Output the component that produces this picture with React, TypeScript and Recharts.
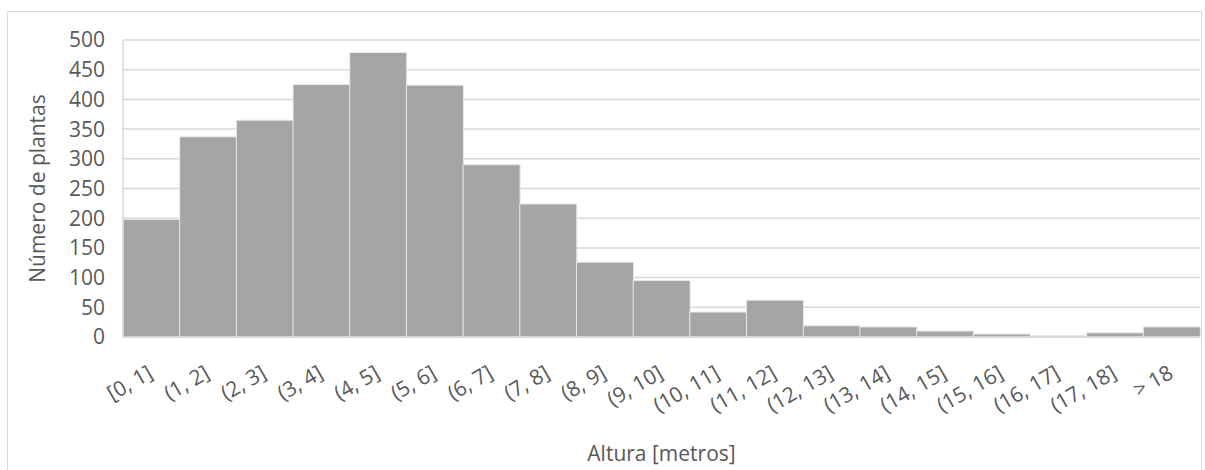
import React from 'react'
import { BarChart, Bar, XAxis, YAxis, CartesianGrid, Label } from 'recharts'

const categories = [
  '[0, 1]', '(1, 2]', '(2, 3]', '(3, 4]', '(4, 5]', '(5, 6]', '(6, 7]', '(7, 8]', '(8, 9]', '(9, 10]',
  '(10, 11]', '(11, 12]', '(12, 13]', '(13, 14]', '(14, 15]', '(15, 16]', '(16, 17]', '(17, 18]', '> 18',
]
const plantCounts = [198, 337, 365, 425, 479, 424, 290, 224, 126, 95, 42, 62, 19, 17, 10, 5, 2, 7, 17]
const yTicks = [0, 50, 100, 150, 200, 250, 300, 350, 400, 450, 500]

const FONT = '"Open Sans", sans-serif'
const TEXT = '#595959'
const GRID = '#d9d9d9'

const data = categories.map((name, i) => ({ name, value: plantCounts[i] }))

function RotatedTick(props: any) {
  const { x, y, payload } = props
  return (
    <text
      x={x + 3}
      y={y}
      textAnchor="end"
      transform={`rotate(-30, ${x + 3}, ${y})`}
      fill={TEXT}
      fontSize={21}
      fontFamily={FONT}
    >
      {payload.value}
    </text>
  )
}

function YTitle(props: any) {
  const { viewBox } = props
  const cx = 37
  const cy = viewBox.y + viewBox.height / 2
  return (
    <text
      x={cx}
      y={cy}
      textAnchor="middle"
      dominantBaseline="central"
      transform={`rotate(-90, ${cx}, ${cy})`}
      fill={TEXT}
      fontSize={21}
      fontFamily={FONT}
    >
      Número de plantas
    </text>
  )
}

export default function App() {
  return (
    <div style={{ position: 'absolute', left: 0, top: 0, width: 1205, height: 470, background: '#fff', overflow: 'hidden' }}>
      <div
        style={{
          position: 'absolute',
          left: 7,
          top: 11,
          width: 1195,
          height: 470,
          border: `1px solid ${GRID}`,
          boxSizing: 'border-box',
        }}
      />
      <div style={{ position: 'absolute', left: 0, top: 0 }}>
        <BarChart
          width={1205}
          height={470}
          data={data}
          margin={{ top: 40, right: 5, bottom: 0, left: 7 }}
          barCategoryGap={0}
        >
          <CartesianGrid vertical={false} stroke={GRID} strokeWidth={1.5} />
          <XAxis
            dataKey="name"
            interval={0}
            height={133}
            tickLine={false}
            tickSize={0}
            tickMargin={40}
            axisLine={{ stroke: GRID, strokeWidth: 1.5 }}
            tick={<RotatedTick />}
          >
            <Label
              value="Altura [metros]"
              position="insideBottom"
              offset={9}
              fill={TEXT}
              fontSize={21}
              fontFamily={FONT}
            />
          </XAxis>
          <YAxis
            width={116}
            domain={[0, 500]}
            ticks={yTicks}
            interval={0}
            tickLine={false}
            tickSize={0}
            tickMargin={18}
            axisLine={{ stroke: GRID, strokeWidth: 1.5 }}
            tick={{ fill: TEXT, fontSize: 21, fontFamily: FONT }}
          >
            <Label content={<YTitle />} />
          </YAxis>
          <Bar dataKey="value" fill="#a5a5a5" stroke="#e8e8e8" strokeWidth={1} isAnimationActive={false} />
        </BarChart>
      </div>
    </div>
  )
}
